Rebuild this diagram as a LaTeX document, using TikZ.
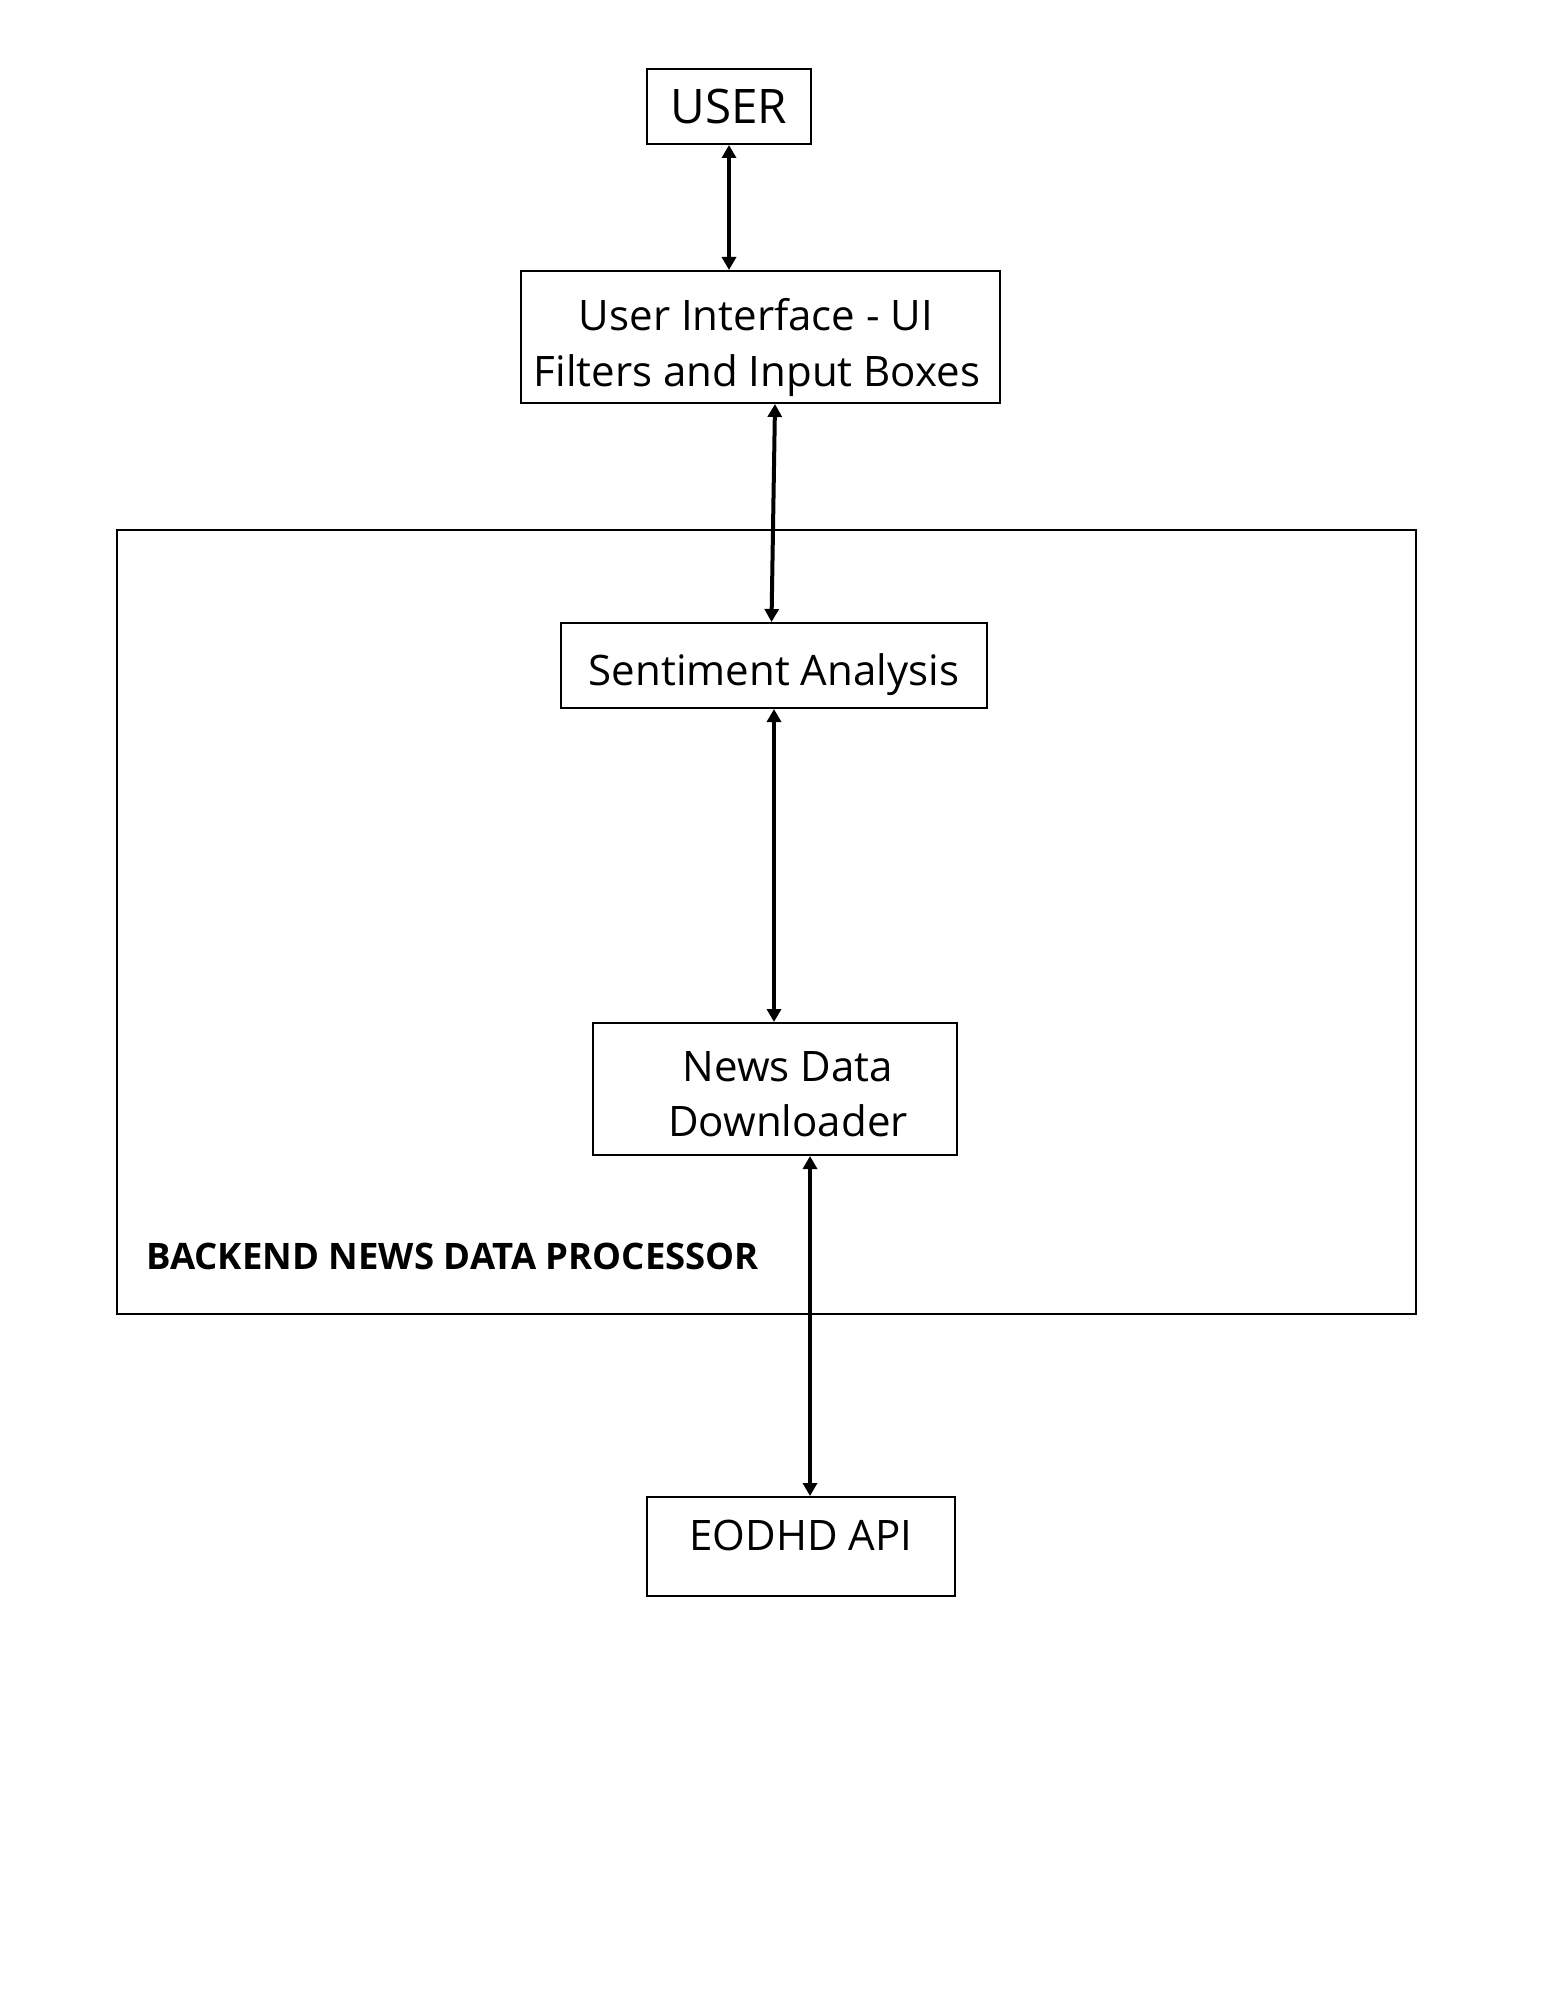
\documentclass[tikz,border=0pt]{standalone}
\usepackage{fontspec}
\setmainfont{Open Sans}
\usetikzlibrary{arrows.meta}
\tikzset{
  box/.style={draw=black, line width=1pt, inner sep=0pt, fill=none},
  txt/.style={inner sep=0pt, anchor=base, font=\fontsize{21pt}{25pt}\selectfont},
  conn/.style={line width=2pt, {Triangle[length=6.5pt,width=7pt]}-{Triangle[length=6.5pt,width=7pt]}},
}
\begin{document}
\begin{tikzpicture}[x=0.5pt,y=-0.5pt]
\useasboundingbox (0,0) rectangle (1545,2000);
\fill[white] (0,0) rectangle (1545,2000);
% backend frame
\node[box, minimum width=649.5pt, minimum height=392pt] (backend) at (766.5,922) {};
\node[inner sep=0pt, anchor=base west, font=\bfseries\fontsize{18.25pt}{21pt}\selectfont] (backendlbl) at (146,1269) {BACKEND NEWS DATA PROCESSOR};
% boxes
\node[box, minimum width=82pt, minimum height=37.5pt] (user) at (729,106.5) {};
\node[txt, font=\fontsize{23.8pt}{28pt}\selectfont] (usert) at (729,124) {USER};
\node[box, minimum width=239.5pt, minimum height=66pt] (ui) at (760.5,337) {};
\node[txt] (uit1) at (756,331) {User Interface - UI};
\node[txt] (uit2) at (757,387) {Filters and Input Boxes};
\node[box, minimum width=213pt, minimum height=42.5pt] (sent) at (774,665.5) {};
\node[txt] (sentt) at (774,685) {Sentiment Analysis};
\node[box, minimum width=182pt, minimum height=66pt] (news) at (775,1089) {};
\node[txt] (newst1) at (788,1081) {News Data};
\node[txt] (newst2) at (788,1136) {Downloader};
\node[box, minimum width=154pt, minimum height=49.5pt] (api) at (801,1546.5) {};
\node[txt] (apit) at (801,1550) {EODHD API};
% connectors
\draw[conn] (user.south) -- (ui.north -| user.south);
\draw[conn] ([xshift=7.25pt]ui.south) -- ([xshift=-1.25pt]sent.north);
\draw[conn] (sent.south) -- (news.north -| sent.south);
\draw[conn] ([xshift=17.5pt]news.south) -- ([xshift=4.5pt]api.north);
\end{tikzpicture}
\end{document}
